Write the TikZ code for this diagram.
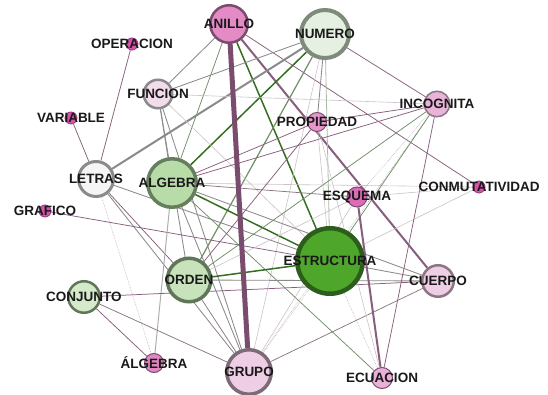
\documentclass[tikz,border=0pt]{standalone}
\usepackage{fontspec}
\setmainfont{Liberation Sans}
\usetikzlibrary{backgrounds}
\definecolor{puC}{RGB}{122,76,110}
\definecolor{gnC}{RGB}{52,110,32}
\definecolor{ggC}{RGB}{112,140,104}
\definecolor{grC}{RGB}{138,138,138}
\definecolor{gpC}{RGB}{140,118,132}
\definecolor{anilloC}{RGB}{228,138,196}
\definecolor{pinkC}{RGB}{214,82,172}
\definecolor{lpinkC}{RGB}{238,206,228}
\definecolor{mpinkC}{RGB}{234,180,218}
\definecolor{estrC}{RGB}{78,166,42}
\definecolor{algC}{RGB}{184,220,168}
\definecolor{ordC}{RGB}{200,227,188}
\definecolor{conjC}{RGB}{213,234,203}
\definecolor{numC}{RGB}{230,240,226}
\definecolor{numB}{RGB}{126,138,122}
\tikzset{
  vtx/.style={circle, draw, inner sep=0pt, minimum size=#1},
  lbl/.style={font=\bfseries\fontsize{13.5}{15}\selectfont, text=black!90, inner sep=0pt},
  dot/.style={vtx=12pt, fill=pinkC, draw=pinkC!70!black, line width=0.8pt},
  pu/.style={draw=puC!90, line width=0.75pt},
  gn/.style={draw=gnC, line width=1.5pt},
  gg/.style={draw=ggC, line width=0.75pt},
  gr/.style={draw=grC, line width=0.85pt},
  gp/.style={draw=gpC, line width=0.75pt},
  faint/.style={draw=gpC!45, line width=0.6pt},
  dots/.style={draw=gpC!60, line width=0.6pt, densely dotted}}

\begin{document}
\begin{tikzpicture}[x=1pt, y=-1pt]
  \useasboundingbox (0,0) rectangle (548,395);
  % nodes
  \node[vtx=37.5pt, fill=anilloC, draw=puC, line width=2.5pt, label={[lbl]center:ANILLO}] (anillo) at (229,24) {};
  \node[vtx=48pt, fill=numC, draw=numB, line width=4pt, label={[lbl]center:NUMERO}] (numero) at (325,34) {};
  \node[dot, label={[lbl]center:OPERACION}] (operacion) at (132,44) {};
  \node[vtx=28.5pt, fill=lpinkC!70!white, draw=grC, line width=2.5pt, label={[lbl]center:FUNCION}] (funcion) at (158,94) {};
  \node[dot, label={[lbl]center:VARIABLE}] (variable) at (71,118) {};
  \node[vtx=25.5pt, fill=mpinkC, draw=gpC, line width=1.5pt, label={[lbl]center:INCOGNITA}] (incognita) at (437,104) {};
  \node[vtx=19pt, fill=anilloC!90!white, draw=puC, line width=1pt, label={[lbl]center:PROPIEDAD}] (propiedad) at (317,122) {};
  \node[vtx=35pt, fill=gray!8, draw=grC, line width=3pt, label={[lbl]center:LETRAS}] (letras) at (96,179) {};
  \node[vtx=48.5pt, fill=algC, draw=ggC!90!black, line width=3.5pt, label={[lbl]center:ALGEBRA}] (algebra) at (172,183) {};
  \node[dot, label={[lbl]center:CONMUTATIVIDAD}] (conmut) at (479,187) {};
  \node[vtx=20pt, fill=pinkC!85!white, draw=puC, line width=1pt, label={[lbl]center:ESQUEMA}] (esquema) at (357,197) {};
  \node[dot, label={[lbl]center:GRAFICO}] (grafico) at (45,211) {};
  \node[vtx=65.5pt, fill=estrC, draw=gnC!85!black, line width=4.5pt, label={[lbl]center:ESTRUCTURA}] (estructura) at (330,261) {};
  \node[vtx=43.5pt, fill=ordC, draw=ggC!85!black, line width=3.5pt, label={[lbl]center:ORDEN}] (orden) at (189,280) {};
  \node[vtx=31.5pt, fill=lpinkC, draw=gpC, line width=2.5pt, label={[lbl]center:CUERPO}] (cuerpo) at (438,281) {};
  \node[vtx=31.5pt, fill=conjC, draw=ggC!85!black, line width=2.5pt, label={[lbl]center:CONJUNTO}] (conjunto) at (84,297) {};
  \node[vtx=19pt, fill=anilloC!95!pinkC, draw=puC, line width=1pt, label={[lbl]center:ÁLGEBRA}] (algebra2) at (154,363) {};
  \node[vtx=44.5pt, fill=lpinkC, draw=gpC!90!black, line width=3.5pt, label={[lbl]center:GRUPO}] (grupo) at (249,372) {};
  \node[vtx=21pt, fill=mpinkC!90!anilloC, draw=puC, line width=1pt, label={[lbl]center:ECUACION}] (ecuacion) at (382,378) {};
  % links
  \begin{scope}[on background layer]
    \draw[gr] (anillo) -- (funcion); \draw[gg] (anillo) -- (algebra); \draw[pu] (anillo) -- (conmut);
    \draw[gn] (anillo) -- (estructura); \draw[pu, line width=2pt] (anillo) -- (cuerpo);
    \draw[gr, line width=2pt] (numero) -- (letras); \draw[gn] (numero) -- (algebra); \draw[gr] (numero) -- (funcion);
    \draw[gg, line width=1.2pt] (numero) -- (orden); \draw[draw=ggC!60, line width=0.8pt] (numero) -- (estructura); \draw[gr] (numero) -- (propiedad);
    \draw[pu] (numero) -- (incognita); \draw[faint] (numero) -- (grupo);
    \draw[faint] (funcion) -- (incognita); \draw[gr] (funcion) -- (algebra); \draw[gr] (funcion) -- (orden);
    \draw[faint] (funcion) -- (estructura); \draw[gr] (funcion) -- (grupo);
    \draw[pu] (operacion) -- (letras); \draw[pu] (variable) -- (letras);
    \draw[pu] (letras) -- (orden); \draw[gr] (letras) -- (estructura); \draw[gr] (letras) -- (grupo);
    \draw[dots] (letras) -- (algebra2); \draw[pu] (grafico) -- (estructura);
    \draw[gn] (algebra) -- (estructura); \draw[draw=grC!70, line width=1pt] (algebra) -- (algebra2); \draw[pu] (algebra) -- (incognita);
    \draw[pu] (algebra) -- (propiedad); \draw[faint] (algebra) -- (conmut); \draw[gg] (algebra) -- (ecuacion);
    \draw[gr] (algebra) -- (grupo); \draw[gr] (algebra) -- (cuerpo); \draw[gp] (algebra) -- (esquema);
    \draw[gn] (orden) -- (estructura); \draw[gr] (orden) -- (cuerpo); \draw[gp] (orden) -- (grupo);
    \draw[pu] (orden) -- (propiedad); \draw[gg] (orden) -- (incognita); \draw[faint] (orden) -- (esquema);
    \draw[pu] (conjunto) -- (cuerpo); \draw[pu] (conjunto) -- (algebra2); \draw[gp] (conjunto) -- (grupo);
    \draw[gp] (grupo) -- (cuerpo); \draw[dots] (grupo) -- (estructura); \draw[dots] (grupo) -- (incognita);
    \draw[faint] (grupo) -- (esquema);
    \draw[gr] (estructura) -- (cuerpo); \draw[faint] (estructura) -- (conmut); \draw[gg] (estructura) -- (incognita);
    \draw[faint] (estructura) -- (propiedad); \draw[dots] (estructura) -- (ecuacion);
    \draw[pu, line width=2pt] (esquema) -- (ecuacion); \draw[pu] (incognita) -- (ecuacion);
    \draw[pu] (incognita) -- (propiedad); \draw[dots] (incognita) -- (esquema); \draw[faint] (conmut) -- (esquema);
    \draw[faint] (propiedad) -- (ecuacion);
    \draw[puC, line width=5pt] (anillo) -- (grupo);
  \end{scope}
\end{tikzpicture}
\end{document}
